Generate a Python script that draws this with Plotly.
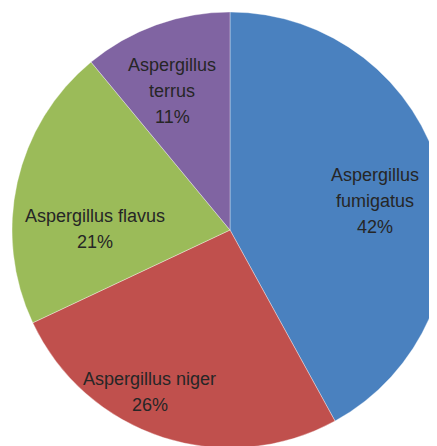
import plotly.graph_objects as go

categories = ["Aspergillus fumigatus", "Aspergillus niger", "Aspergillus flavus", "Aspergillus terrus"]
label_lines = [["Aspergillus", "fumigatus"], ["Aspergillus niger"], ["Aspergillus flavus"], ["Aspergillus", "terrus"]]
values = [42, 26, 21, 11]
colors = ["#4A81BF", "#C0504D", "#9BBB59", "#8064A2"]

# label placement (fraction of pie radius from centre, x right / y up)
label_pos = [(0.665, 0.133), (-0.367, -0.741), (-0.619, 0.005), (-0.266, 0.638)]
LINE_H = 26

fig = go.Figure(go.Pie(
    labels=categories,
    values=values,
    sort=False,
    direction="clockwise",
    rotation=0,
    marker=dict(colors=colors, line=dict(color="rgba(255,255,255,0.5)", width=0.7)),
    textinfo="none",
    showlegend=False,
    hoverinfo="label+percent",
    domain=dict(x=[0, 1], y=[0, 1]),
))

total = sum(values)
annotations = []
for lines, v, (fx, fy) in zip(label_lines, values, label_pos):
    pct = f"{round(100 * v / total)}%"
    all_lines = lines + [pct]
    n = len(all_lines)
    for i, ln in enumerate(all_lines):
        annotations.append(dict(
            x=0.5 + 0.5 * fx, y=0.5 + 0.5 * fy, xref="paper", yref="paper",
            text=ln, showarrow=False, xanchor="center", yanchor="middle",
            yshift=((n - 1) / 2 - i) * LINE_H,
            font=dict(family="Liberation Sans, Arial, sans-serif", size=18, color="#262626"),
        ))

fig.update_layout(
    width=460, height=460,
    margin=dict(l=4, r=20, t=4, b=20),
    paper_bgcolor="white",
    plot_bgcolor="white",
    annotations=annotations,
)

fig.write_html("out.html", post_script="document.body.style.overflow='hidden';document.documentElement.style.overflow='hidden';")
